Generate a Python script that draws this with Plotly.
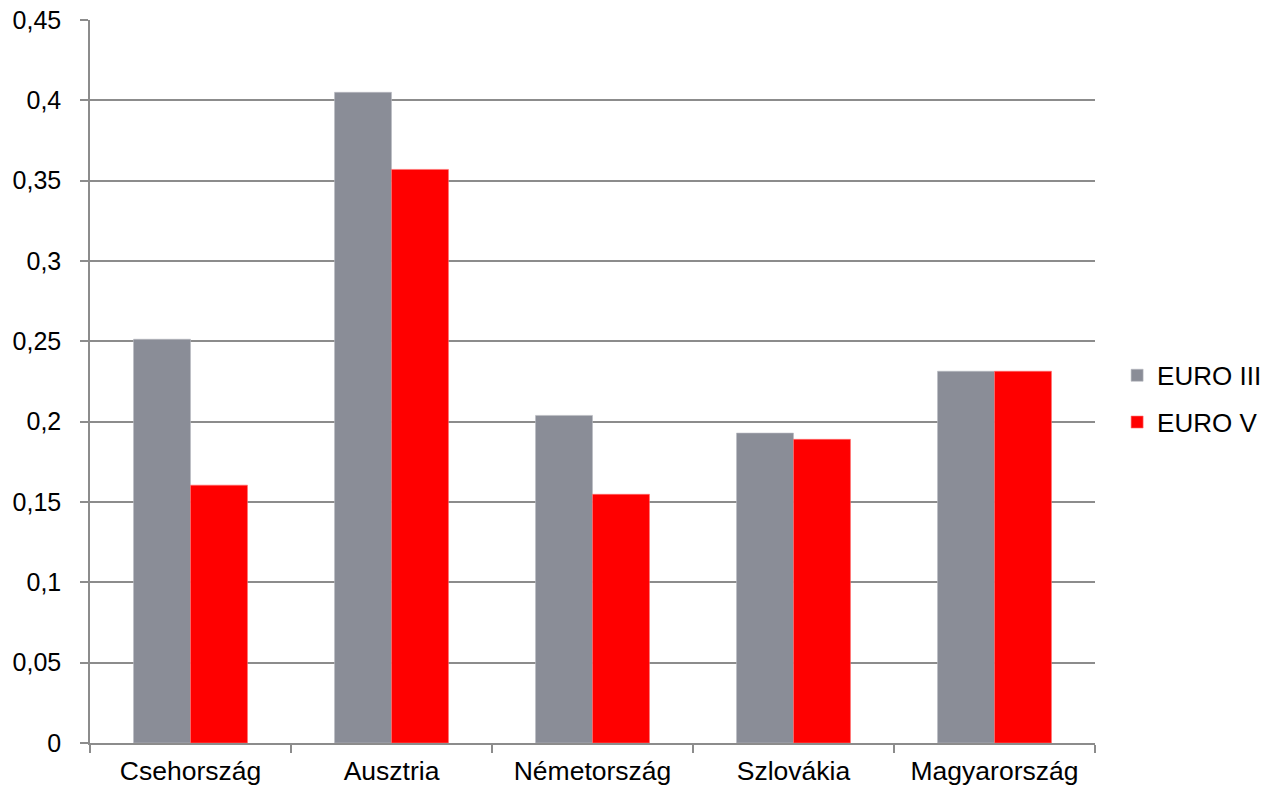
import plotly.graph_objects as go

categories = ["Csehország", "Ausztria", "Németország", "Szlovákia", "Magyarország"]
euro3 = [0.2513, 0.405, 0.2039, 0.1929, 0.2314]
euro5 = [0.1605, 0.357, 0.1548, 0.189, 0.2314]
series_names = ["EURO III", "EURO V"]

fig = go.Figure()
fig.add_trace(go.Bar(x=categories, y=euro3, name=series_names[0], legendgroup="a",
                     marker=dict(color="#8A8D97", line=dict(color="#B8BAC1", width=0.6))))
fig.add_trace(go.Bar(x=categories, y=euro5, name=series_names[1], legendgroup="b",
                     marker=dict(color="#FF0000", line=dict(color="#FF7070", width=0.6))))

font = dict(family="Liberation Sans, Arial, sans-serif", size=26, color="#000000")
xfont = dict(family="Liberation Sans, Arial, sans-serif", size=26.5, color="#000000")
yfont = dict(family="Liberation Sans, Arial, sans-serif", size=25, color="#000000")

fig.update_layout(
    width=1268, height=792,
    margin=dict(l=90, r=173, t=20, b=49, autoexpand=False),
    paper_bgcolor="white", plot_bgcolor="white",
    font=font,
    separators=", ",
    barmode="group", bargap=0.433, bargroupgap=0,
    showlegend=True,
    legend=dict(x=1.022, xanchor="left", y=0.476, yanchor="middle",
                traceorder="grouped", tracegroupgap=10, font=font,
                itemwidth=30, bgcolor="rgba(0,0,0,0)"),
    xaxis=dict(showline=True, linecolor="#8C8C8C", linewidth=1.5, automargin=False,
               ticks="outside", tickson="boundaries", ticklen=8, tickcolor="#8C8C8C",
               tickwidth=1.5, showgrid=False, tickfont=xfont, ticklabelstandoff=3,
               ticklabeloverflow="allow"),
    yaxis=dict(range=[0, 0.45], dtick=0.05, tick0=0, showline=True, linecolor="#8C8C8C",
               linewidth=1.5, ticks="outside", ticklen=8, tickcolor="#8C8C8C", tickwidth=1.5,
               showgrid=True, gridcolor="#8C8C8C", gridwidth=1.5, zeroline=False,
               automargin=False, tickfont=yfont, ticklabelstandoff=14,
               ticklabeloverflow="allow"),
)

fig.write_html("out.html", config={"displayModeBar": False},
               post_script="document.body.style.margin='0';document.body.style.overflow='hidden';")
